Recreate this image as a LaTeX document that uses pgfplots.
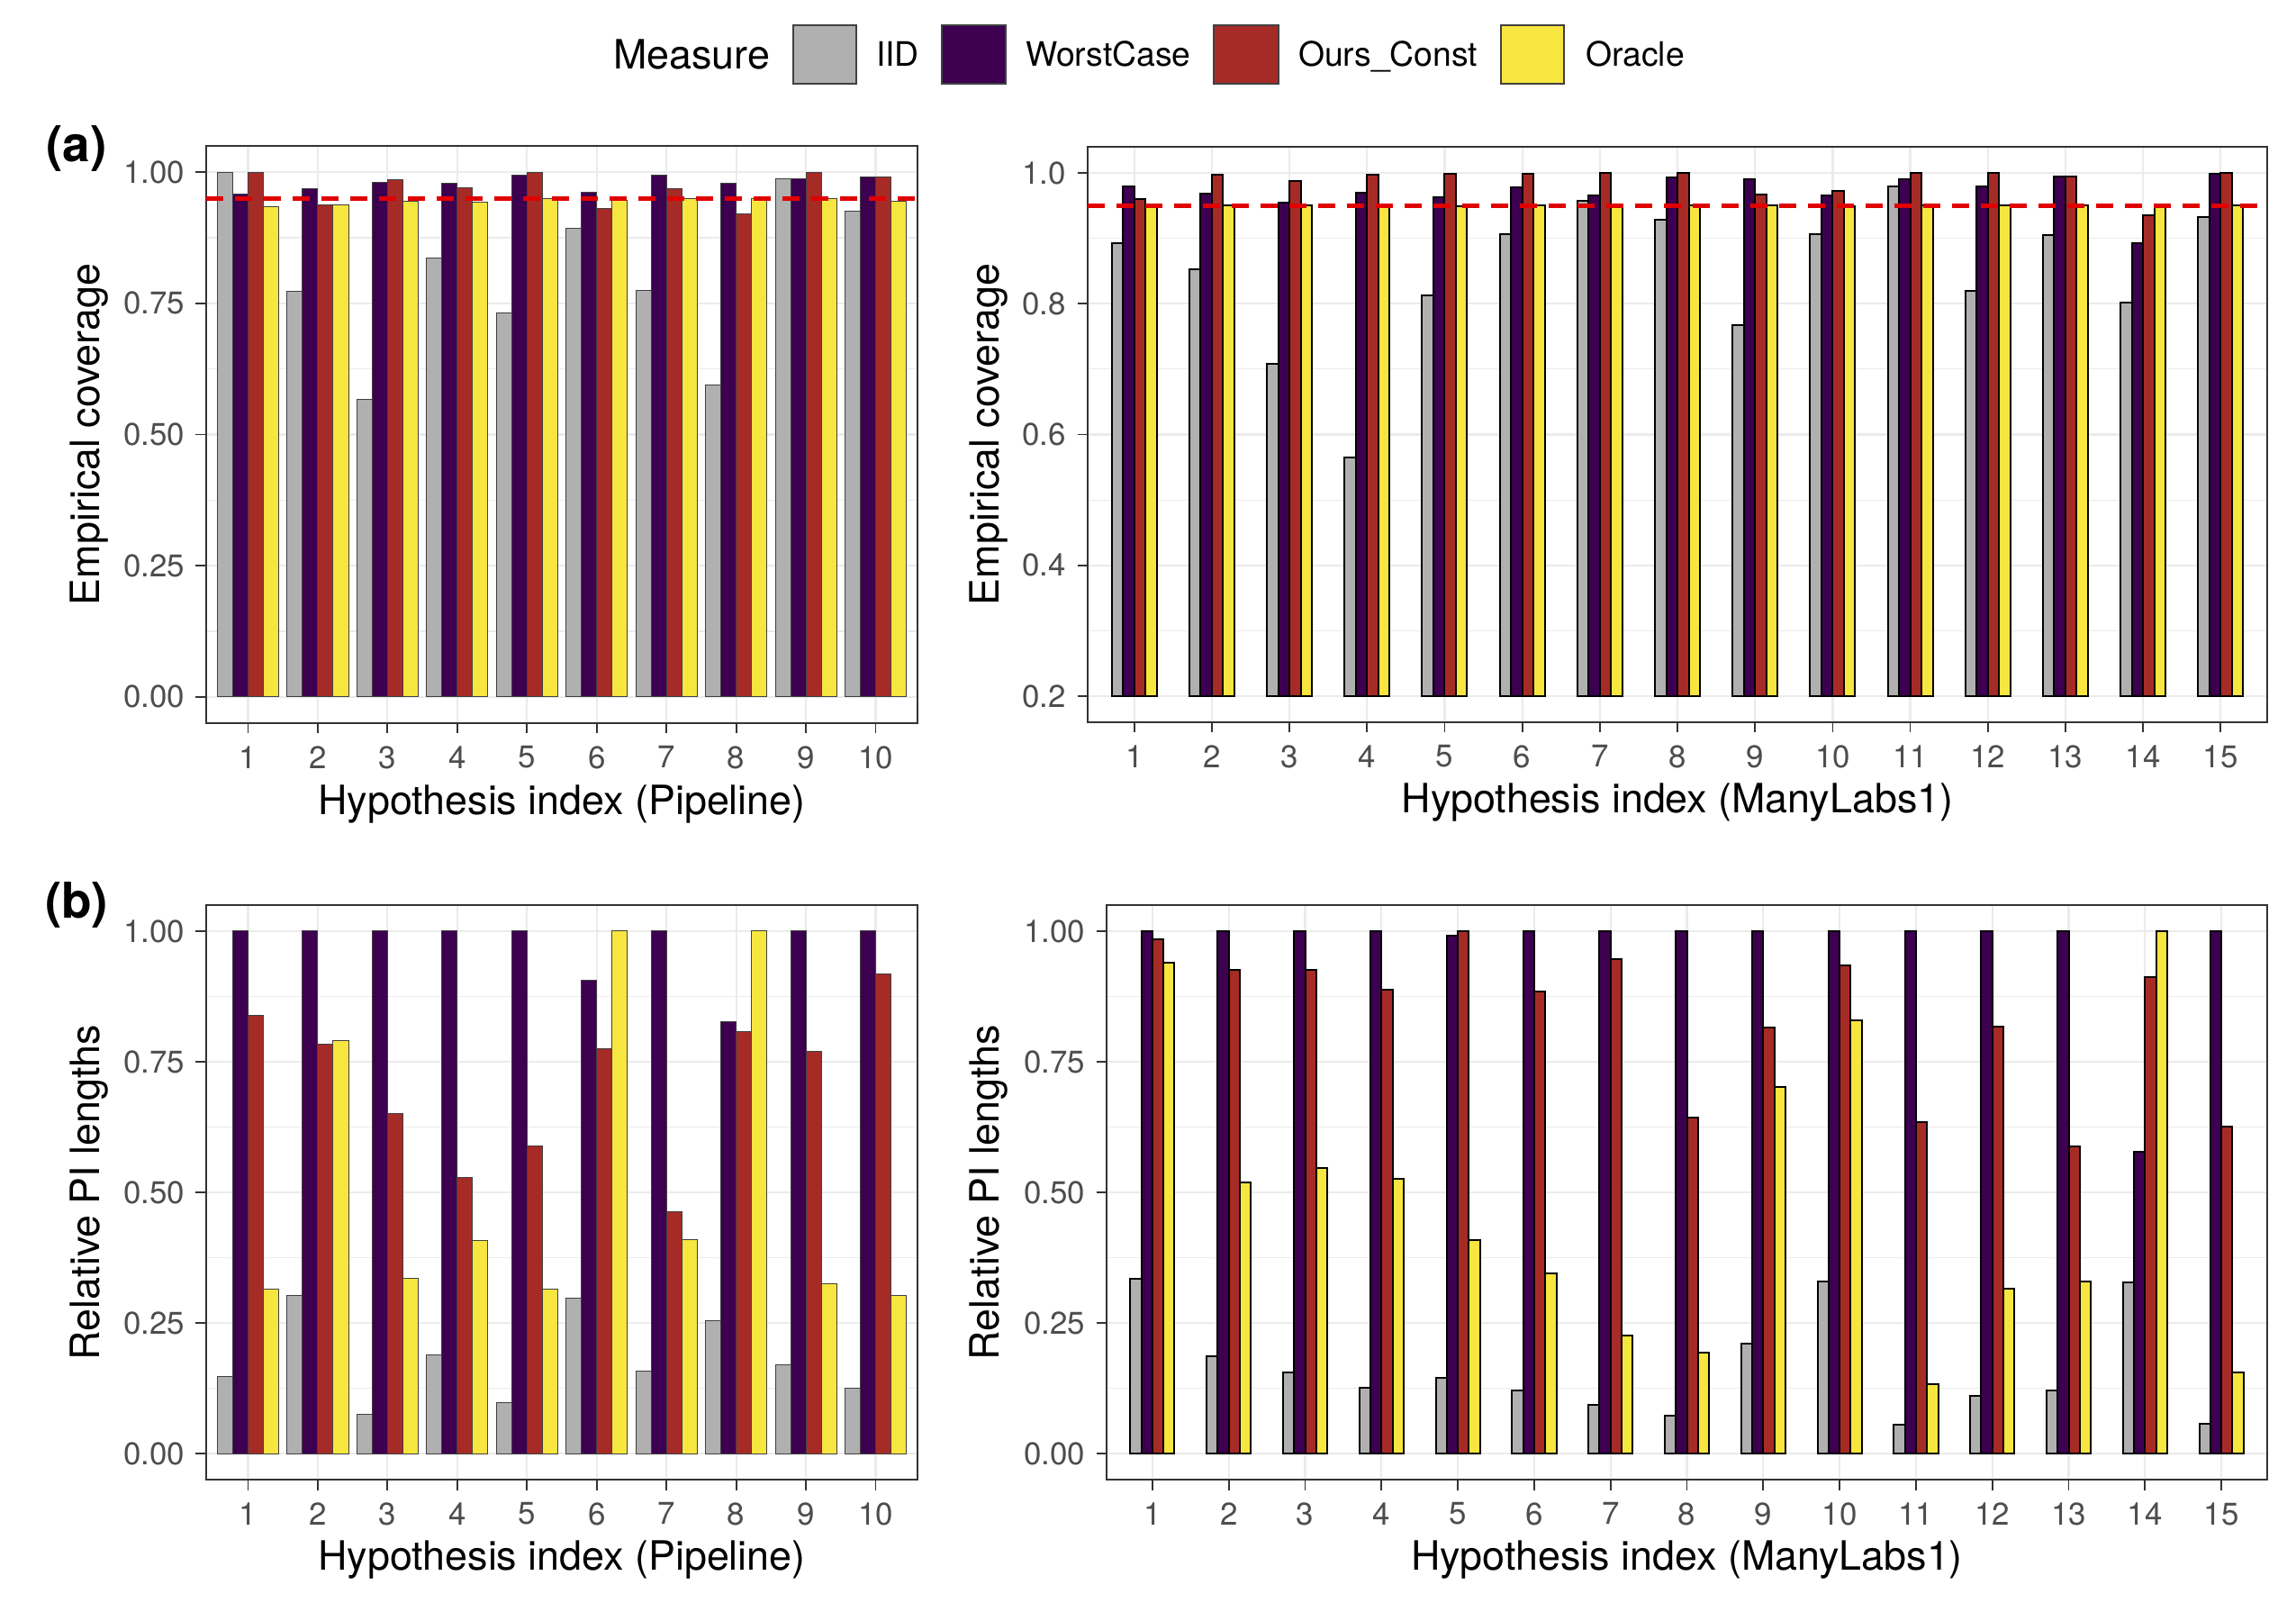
\documentclass[border=0pt]{standalone}
\usepackage{fontspec}
\setmainfont{TeX Gyre Heros}
\usepackage{pgfplots}
\usepackage{pgfplotstable}
\pgfplotsset{compat=1.18}

\definecolor{cIID}{HTML}{B0B0B0}
\definecolor{cWC}{HTML}{3D0050}
\definecolor{cOC}{HTML}{A62B26}
\definecolor{cOR}{HTML}{F7E540}
\definecolor{cRef}{HTML}{E00000}
\definecolor{gridc}{HTML}{EBEBEB}
\definecolor{axc}{HTML}{333333}
\definecolor{tlc}{HTML}{4D4D4D}

\pgfplotstableread{
x iid wc oc or
1 1.000 0.959 1.000 0.935
2 0.773 0.968 0.937 0.937
3 0.567 0.981 0.986 0.944
4 0.837 0.979 0.971 0.943
5 0.732 0.994 1.000 0.949
6 0.893 0.962 0.931 0.946
7 0.775 0.995 0.969 0.949
8 0.594 0.979 0.920 0.949
9 0.988 0.988 1.000 0.949
10 0.925 0.990 0.990 0.944
}\covpipe

\pgfplotstableread{
x iid wc oc or
1 0.892 0.979 0.960 0.950
2 0.853 0.968 0.997 0.950
3 0.708 0.955 0.987 0.950
4 0.565 0.970 0.997 0.950
5 0.813 0.963 0.999 0.949
6 0.906 0.978 0.999 0.950
7 0.958 0.966 1.000 0.950
8 0.929 0.993 1.000 0.950
9 0.768 0.991 0.967 0.950
10 0.906 0.965 0.972 0.949
11 0.980 0.990 1.000 0.950
12 0.820 0.980 1.000 0.950
13 0.905 0.994 0.994 0.950
14 0.802 0.893 0.935 0.950
15 0.933 0.999 1.000 0.950
}\covml

\pgfplotstableread{
x iid wc oc or
1 0.148 1.000 0.839 0.314
2 0.303 1.000 0.783 0.790
3 0.075 1.000 0.650 0.336
4 0.189 1.000 0.528 0.408
5 0.097 1.000 0.589 0.315
6 0.298 0.906 0.775 1.000
7 0.157 1.000 0.463 0.409
8 0.255 0.827 0.808 1.000
9 0.169 1.000 0.770 0.325
10 0.125 1.000 0.918 0.303
}\lenpipe

\pgfplotstableread{
x iid wc oc or
1 0.335 1.000 0.984 0.940
2 0.187 1.000 0.926 0.519
3 0.156 1.000 0.926 0.546
4 0.125 1.000 0.888 0.526
5 0.145 0.992 1.000 0.409
6 0.121 1.000 0.885 0.344
7 0.093 1.000 0.947 0.225
8 0.073 1.000 0.643 0.193
9 0.210 1.000 0.815 0.702
10 0.329 1.000 0.934 0.829
11 0.056 1.000 0.635 0.133
12 0.110 1.000 0.817 0.315
13 0.120 1.000 0.588 0.329
14 0.327 0.578 0.912 1.000
15 0.057 1.000 0.625 0.155
}\lenml

\pgfplotsset{
  gg/.style={
    scale only axis,
    anchor=south west,
    /pgf/number format/assume math mode=true,
    axis line style={draw=axc, line width=0.3bp},
    tick align=outside,
    tick pos=left,
    major tick length=2.3bp,
    minor tick length=0pt,
    major tick style={draw=axc, line width=0.35bp},
    xmajorgrids, ymajorgrids, yminorgrids,
    major grid style={draw=gridc, line width=0.45bp},
    minor grid style={draw=gridc, line width=0.22bp},
    ticklabel style={font=\fontsize{7}{8}\selectfont, text=tlc},
    xticklabel style={anchor=north, inner sep=0pt, yshift=-2.6bp},
    yticklabel style={anchor=east, inner sep=0pt, xshift=-2.3bp},
    label style={font=\fontsize{9}{10}\selectfont},
    xmin=0.4,
  },
  gl/.style={gg, xmax=10.6, xtick={1,...,10}, width=158bp,
    ymin=-0.05, ymax=1.05,
    ytick={0,0.25,0.5,0.75,1}, yticklabels={0.00,0.25,0.50,0.75,1.00},
    minor ytick={0.125,0.375,0.625,0.875},
    ylabel style={at={(axis description cs:-0.165,0.5)}, anchor=center},
    xlabel style={at={(axis description cs:0.5,-0.140)}, anchor=center},
  },
  gr/.style={gg, xmax=15.6, xtick={1,...,15},
    xlabel style={at={(axis description cs:0.5,-0.140)}, anchor=center},
  },
  bl/.style={ybar, bar width=0.22, draw=black!75, line width=0.2bp},
  br/.style={ybar, bar width=0.145, draw=black, line width=0.4bp},
  refl/.style={sharp plot, no marks, draw=cRef, line width=0.9bp, dash pattern=on 3.8bp off 2.6bp, forget plot},
}

\begin{document}
\begin{tikzpicture}
\useasboundingbox (0,0) rectangle (510bp,360bp);

% legend
\node[anchor=base west, inner sep=0pt, font=\fontsize{9}{10}\selectfont] at (136bp,344.6bp) {Measure};
\filldraw[fill=cIID, draw=black!75, line width=0.3bp] (176.2bp,341.4bp) rectangle (190.2bp,354.4bp);
\node[anchor=base west, inner sep=0pt, font=\fontsize{7.5}{9}\selectfont] at (194.4bp,345.2bp) {IID};
\filldraw[fill=cWC, draw=black!75, line width=0.3bp] (209.2bp,341.4bp) rectangle (223.4bp,354.4bp);
\node[anchor=base west, inner sep=0pt, font=\fontsize{7.5}{9}\selectfont] at (227.6bp,345.2bp) {WorstCase};
\filldraw[fill=cOC, draw=black!75, line width=0.3bp] (269.6bp,341.4bp) rectangle (284bp,354.4bp);
\node[anchor=base west, inner sep=0pt, font=\fontsize{7.5}{9}\selectfont] at (288.2bp,345.2bp) {Ours\_Const};
\filldraw[fill=cOR, draw=black!75, line width=0.3bp] (333.4bp,341.4bp) rectangle (347.4bp,354.4bp);
\node[anchor=base west, inner sep=0pt, font=\fontsize{7.5}{9}\selectfont] at (352bp,345.2bp) {Oracle};

% panel tags
\node[font=\bfseries\fontsize{11}{12}\selectfont, inner sep=0pt] at (17bp,327bp) {(a)};
\node[font=\bfseries\fontsize{11}{12}\selectfont, inner sep=0pt] at (17bp,159bp) {(b)};

% (a) left
\begin{axis}[gl, at={(45.8bp,199.4bp)}, height=128.2bp,
  ylabel={Empirical coverage}, xlabel={Hypothesis index (Pipeline)}]
\addplot[bl, fill=cIID, bar shift=-0.33] table[x=x, y=iid] {\covpipe};
\addplot[bl, fill=cWC, bar shift=-0.11] table[x=x, y=wc] {\covpipe};
\addplot[bl, fill=cOC, bar shift=0.11] table[x=x, y=oc] {\covpipe};
\addplot[bl, fill=cOR, bar shift=0.33] table[x=x, y=or] {\covpipe};
\addplot[refl] coordinates {(0.4,0.95) (10.6,0.95)};
\end{axis}

% (a) right
\begin{axis}[gr, at={(241.6bp,199.6bp)}, width=262bp, height=127.8bp,
  y filter/.expression={y-0.2},
  ymin=-0.04, ymax=0.84,
  ytick={0,0.2,0.4,0.6,0.8}, yticklabels={0.2,0.4,0.6,0.8,1.0},
  minor ytick={0.1,0.3,0.5,0.7},
  ylabel style={at={(axis description cs:-0.084,0.5)}, anchor=center},
  ylabel={Empirical coverage}, xlabel={Hypothesis index (ManyLabs1)}]
\addplot[br, fill=cIID, bar shift=-0.2175] table[x=x, y=iid] {\covml};
\addplot[br, fill=cWC, bar shift=-0.0725] table[x=x, y=wc] {\covml};
\addplot[br, fill=cOC, bar shift=0.0725] table[x=x, y=oc] {\covml};
\addplot[br, fill=cOR, bar shift=0.2175] table[x=x, y=or] {\covml};
\addplot[refl] coordinates {(0.4,0.95) (15.6,0.95)};
\end{axis}

% (b) left
\begin{axis}[gl, at={(45.8bp,31.4bp)}, height=127.6bp,
  ylabel={Relative PI lengths}, xlabel={Hypothesis index (Pipeline)}]
\addplot[bl, fill=cIID, bar shift=-0.33] table[x=x, y=iid] {\lenpipe};
\addplot[bl, fill=cWC, bar shift=-0.11] table[x=x, y=wc] {\lenpipe};
\addplot[bl, fill=cOC, bar shift=0.11] table[x=x, y=oc] {\lenpipe};
\addplot[bl, fill=cOR, bar shift=0.33] table[x=x, y=or] {\lenpipe};
\end{axis}

% (b) right
\begin{axis}[gr, at={(245.8bp,31.4bp)}, width=257.8bp, height=127.6bp,
  ymin=-0.05, ymax=1.05,
  ytick={0,0.25,0.5,0.75,1}, yticklabels={0.00,0.25,0.50,0.75,1.00},
  minor ytick={0.125,0.375,0.625,0.875},
  ylabel style={at={(axis description cs:-0.1016,0.5)}, anchor=center},
  ylabel={Relative PI lengths}, xlabel={Hypothesis index (ManyLabs1)}]
\addplot[br, fill=cIID, bar shift=-0.2175] table[x=x, y=iid] {\lenml};
\addplot[br, fill=cWC, bar shift=-0.0725] table[x=x, y=wc] {\lenml};
\addplot[br, fill=cOC, bar shift=0.0725] table[x=x, y=oc] {\lenml};
\addplot[br, fill=cOR, bar shift=0.2175] table[x=x, y=or] {\lenml};
\end{axis}
\end{tikzpicture}
\end{document}
